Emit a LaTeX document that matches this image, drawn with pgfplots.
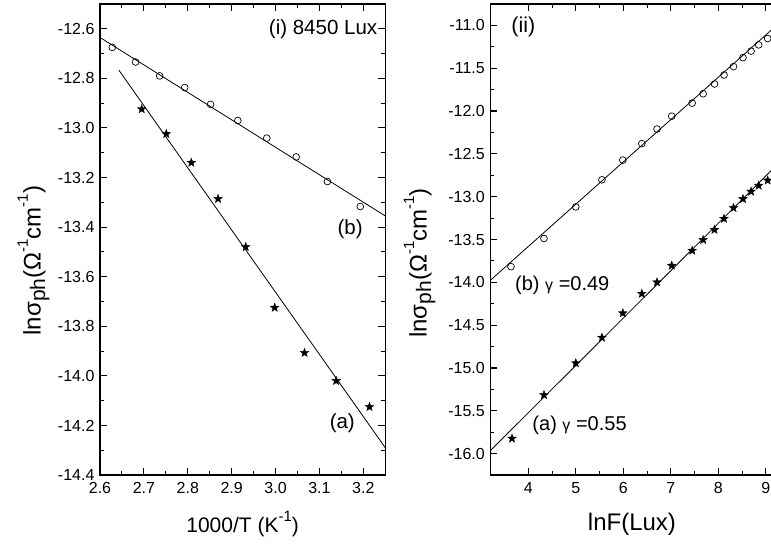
\documentclass[border=0pt]{standalone}
\usepackage{fontspec}
\setmainfont{Liberation Sans}
\usepackage{pgfplots}
\pgfplotsset{compat=1.18}

\pgfdeclareplotmark{fstar}{%
  \pgfpathmoveto{\pgfpointpolar{90}{\pgfplotmarksize}}%
  \pgfpathlineto{\pgfpointpolar{126}{0.42\pgfplotmarksize}}%
  \pgfpathlineto{\pgfpointpolar{162}{\pgfplotmarksize}}%
  \pgfpathlineto{\pgfpointpolar{198}{0.42\pgfplotmarksize}}%
  \pgfpathlineto{\pgfpointpolar{234}{\pgfplotmarksize}}%
  \pgfpathlineto{\pgfpointpolar{270}{0.42\pgfplotmarksize}}%
  \pgfpathlineto{\pgfpointpolar{306}{\pgfplotmarksize}}%
  \pgfpathlineto{\pgfpointpolar{342}{0.42\pgfplotmarksize}}%
  \pgfpathlineto{\pgfpointpolar{18}{\pgfplotmarksize}}%
  \pgfpathlineto{\pgfpointpolar{54}{0.42\pgfplotmarksize}}%
  \pgfpathclose
  \pgfusepathqfillstroke
}

\newcommand{\sub}[1]{\raisebox{-0.35ex}{\fontsize{21}{21}\selectfont #1}}
\newcommand{\sups}[1]{\raisebox{1.0ex}{\fontsize{15}{15}\selectfont #1}}
\newcommand{\ylab}{\fontsize{24}{28}\selectfont lnσ\sub{ph}(Ω\sups{-1}cm\sups{-1})}

\pgfplotsset{
  mystyle/.style={
    scale only axis,
    tick align=inside,
    major tick length=7pt,
    minor tick length=4pt,
    axis line style={line width=1.3pt},
    every tick/.style={black, line width=1.1pt},
    tick label style={font=\fontsize{16}{19}\selectfont},
    xticklabel style={yshift=-4pt},
    yticklabel style={xshift=-2pt, /pgf/number format/.cd, fixed, fixed zerofill, precision=1},
    /pgf/number format/assume math mode=true,
    minor x tick num=1,
    minor y tick num=1,
    every axis x label/.style={at={(axis description cs:#1,-0.104)}, anchor=center, font=\fontsize{21}{25}\selectfont},
  },
  circ/.style={only marks, mark=o, mark size=3.4pt, mark options={line width=0.7pt, black}},
  stars/.style={only marks, mark=fstar, mark size=4.6pt, mark options={black, fill=black, line width=0.3pt}},
  fit/.style={black, line width=0.8pt, no marks},
}

\begin{document}
\begin{tikzpicture}
\begin{axis}[mystyle=0.5,
  at={(100pt,69pt)}, anchor=south west,
  width=285.3pt, height=471pt,
  xmin=2.6, xmax=3.25, ymin=-14.4, ymax=-12.5,
  xtick={2.6,2.7,2.8,2.9,3.0,3.1,3.2},
  ytick={-14.4,-14.2,-14.0,-13.8,-13.6,-13.4,-13.2,-13.0,-12.8,-12.6},
  xticklabel style={/pgf/number format/.cd, fixed, fixed zerofill, precision=1},
  xlabel={1000/T (K\sups{-1})},
  ylabel={\ylab},
  every axis y label/.style={at={(axis description cs:-0.233,0.455)}, rotate=90, anchor=center},
]
\addplot[fit] coordinates {(2.6,-12.635) (3.25,-13.355)};
\addplot[fit] coordinates {(2.643,-12.767) (3.25,-14.29)};
\addplot[circ] coordinates {
(2.628,-12.675) (2.681,-12.734) (2.736,-12.790) (2.793,-12.837) (2.852,-12.905)
(2.914,-12.970) (2.980,-13.041) (3.047,-13.117) (3.118,-13.216) (3.193,-13.317)};
\addplot[stars] coordinates {
(2.695,-12.924) (2.751,-13.024) (2.808,-13.140) (2.869,-13.286) (2.932,-13.480)
(2.998,-13.725) (3.066,-13.907) (3.138,-14.020) (3.214,-14.125)};
\node[anchor=east, inner sep=0pt, font=\fontsize{20.5}{22}\selectfont] at (axis cs:3.232,-12.6) {(i) 8450 Lux};
\node[font=\fontsize{20.5}{22}\selectfont] at (axis cs:3.17,-13.41) {(b)};
\node[font=\fontsize{20.5}{22}\selectfont] at (axis cs:3.152,-14.19) {(a)};
\end{axis}

\begin{axis}[mystyle=0.481,
  at={(490.3pt,69pt)}, anchor=south west,
  width=294.5pt, height=471pt,
  xmin=3.2, xmax=9.4, ymin=-16.25, ymax=-10.75,
  xtick={4,5,6,7,8,9},
  ytick={-16,-15.5,-15,-14.5,-14,-13.5,-13,-12.5,-12,-11.5,-11},
  xlabel={lnF(Lux)},
  xlabel style={font=\fontsize{24}{28}\selectfont},
  ylabel={\ylab},
  every axis y label/.style={at={(axis description cs:-0.24,0.45)}, rotate=90, anchor=center},
]
\addplot[fit] coordinates {(3.2,-13.977) (9.4,-10.914)};
\addplot[fit] coordinates {(3.2,-15.966) (9.4,-12.537)};
\addplot[circ] coordinates {
(3.636,-13.817) (4.33,-13.488) (5.00,-13.120) (5.55,-12.803) (5.99,-12.573)
(6.39,-12.380) (6.71,-12.210) (7.02,-12.060) (7.45,-11.907) (7.68,-11.798)
(7.92,-11.684) (8.12,-11.579) (8.32,-11.481) (8.52,-11.376) (8.69,-11.300)
(8.85,-11.227) (9.04,-11.153)};
\addplot[stars] coordinates {
(3.657,-15.824) (4.33,-15.315) (5.00,-14.944) (5.55,-14.646) (5.99,-14.360)
(6.39,-14.133) (6.71,-13.999) (7.02,-13.805) (7.45,-13.630) (7.68,-13.504)
(7.92,-13.386) (8.12,-13.257) (8.32,-13.131) (8.52,-13.026) (8.69,-12.940)
(8.85,-12.870) (9.04,-12.810)};
\node[font=\fontsize{21.5}{24}\selectfont] at (axis cs:3.895,-11.02) {(ii)};
\node[anchor=west, inner sep=0pt, font=\fontsize{20}{22}\selectfont] at (axis cs:3.72,-14.04) {(b) {\fontsize{16}{16}\selectfont γ} =0.49};
\node[anchor=west, inner sep=0pt, font=\fontsize{20}{22}\selectfont] at (axis cs:4.084,-15.675) {(a) {\fontsize{16}{16}\selectfont γ} =0.55};
\end{axis}
\pgfresetboundingbox
\useasboundingbox (0pt,0pt) rectangle (771pt,544pt);
\end{tikzpicture}
\end{document}
